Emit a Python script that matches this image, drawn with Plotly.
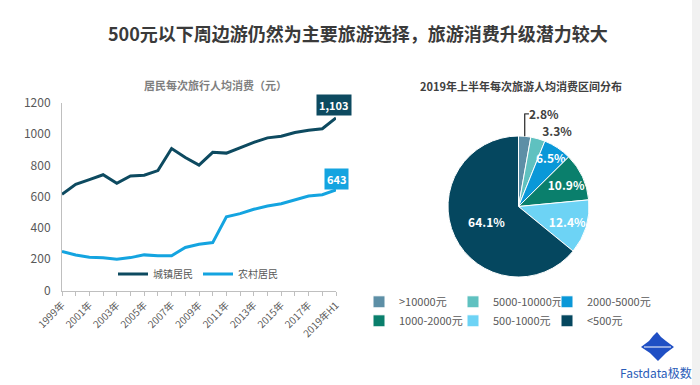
import plotly.graph_objects as go

# ---------------- data ----------------
years = [f"{y}年" for y in range(1999, 2019)] + ["2019年H1"]
urban = [614.8, 678.6, 708.3, 739.7, 684.9, 731.8, 737.1, 766.0, 906.9, 849.4,
         801.1, 883.0, 877.8, 914.5, 946.6, 975.4, 985.5, 1009.1, 1024.6, 1034.0, 1103.0]
rural = [249.5, 226.6, 212.7, 209.1, 200.0, 210.2, 227.6, 221.9, 222.5, 275.3,
         295.3, 306.0, 471.4, 491.0, 518.9, 540.2, 554.2, 576.4, 603.3, 611.9, 643.0]
series_names = ["城镇居民", "农村居民"]

pie_labels = [">10000元", "5000-10000元", "2000-5000元", "1000-2000元", "500-1000元", "<500元"]
pie_values = [2.8, 3.3, 6.5, 10.9, 12.4, 64.1]

title_main = "500元以下周边游仍然为主要旅游选择，旅游消费升级潜力较大"
title_line = "居民每次旅行人均消费（元）"
title_pie = "2019年上半年每次旅游人均消费区间分布"

# ---------------- styling ----------------
FONT = "Noto Sans CJK SC"
C_URBAN = "#0d4a60"
C_RURAL = "#14a4e0"
pie_colors = ["#5d8fa6", "#5fc1c0", "#0a98d8", "#0a7f6c", "#6dd3f5", "#05475f"]

W, H = 700, 385
ML, MR = 0, 58
GW = W - ML - MR


def px(x):
    return (x - ML) / GW


def py(y):
    return 1 - y / H


fig = go.Figure()

fig.add_trace(go.Scatter(x=years, y=urban, mode="lines", name=series_names[0],
                         line=dict(color=C_URBAN, width=3), legend="legend2"))
fig.add_trace(go.Scatter(x=years, y=rural, mode="lines", name=series_names[1],
                         line=dict(color=C_RURAL, width=3), legend="legend2"))

ticktext = [y if i % 2 == 0 else "" for i, y in enumerate(years)]

fig.add_trace(go.Pie(
    labels=pie_labels, values=pie_values, sort=False, direction="clockwise", rotation=0,
    marker=dict(colors=pie_colors, line=dict(color="white", width=1)),
    text=[f"{v}%" for v in pie_values], textinfo="text",
    textposition=["outside", "outside", "inside", "inside", "inside", "inside"],
    insidetextfont=dict(color="white", size=12, family=FONT, weight="bold"),
    outsidetextfont=dict(color="#404040", size=11, family=FONT, weight="bold"),
    insidetextorientation="horizontal",
    hole=0,
    domain=dict(x=[px(448), px(589)], y=[py(277), py(136)]),
    legend="legend",
))


def ann(text, x, y, size, color, bold=True):
    return dict(text=text, x=px(x), y=py(y), xref="paper", yref="paper", showarrow=False,
                xanchor="center", yanchor="middle",
                font=dict(size=size, family=FONT, color=color, weight="bold" if bold else "normal"))


annotations = [
    ann(title_main, 358, 33, 18, "#3a3a3a"),
    ann(title_line, 215, 85, 11, "#7f7f7f"),
    ann(title_pie, 521, 86, 11, "#404040"),
    ann("Fastdata极数", 656, 372, 12, "#2a5cb8", bold=False),
    dict(text=f"{urban[-1]:,.0f}", x=years[-1], y=urban[-1], xref="x", yref="y",
         xanchor="center", yanchor="middle",
         showarrow=False, yshift=13, xshift=-2, bgcolor=C_URBAN, borderpad=2,
         font=dict(size=11, family=FONT, color="white", weight="bold")),
    dict(text=f"{rural[-1]:,.0f}", x=years[-1], y=rural[-1], xref="x", yref="y",
         xanchor="center", yanchor="middle",
         showarrow=False, yshift=11, bgcolor=C_RURAL, borderpad=2,
         font=dict(size=11, family=FONT, color="white", weight="bold")),
]

# decorative logo (iceberg)
logo_pts = [(641, 347), (649, 341), (653, 336), (657, 332), (661, 337), (666, 341), (674, 347),
            (666, 353), (658, 361), (650, 353)]
logo_path = "M " + " L ".join(f"{px(x):.5f},{py(y):.5f}" for x, y in logo_pts) + " Z"

shapes = [
    dict(type="path", path=logo_path, xref="paper", yref="paper",
         fillcolor="#1f4fc4", line=dict(width=0)),
    dict(type="line", x0=px(644), x1=px(671), y0=py(347), y1=py(347), xref="paper", yref="paper",
         line=dict(color="white", width=1)),
    dict(type="rect", x0=px(692), x1=px(700), y0=0, y1=1, xref="paper", yref="paper",
         fillcolor="#f1f1f1", line=dict(width=0), layer="below"),
]

fig.update_layout(
    width=W, height=H,
    margin=dict(l=ML, r=MR, t=0, b=0, autoexpand=False),
    paper_bgcolor="white", plot_bgcolor="white",
    font=dict(family=FONT, color="#595959"),
    annotations=annotations,
    shapes=shapes,
    uniformtext=dict(minsize=12, mode="show"),
    xaxis=dict(domain=[px(62), px(336)], type="category", range=[0, len(years) - 1],
               tickmode="array", tickvals=years, ticktext=ticktext, tickangle=-45,
               ticks="outside", ticklen=4, tickcolor="#bfbfbf",
               showline=True, linecolor="#bfbfbf", linewidth=1, showgrid=False,
               tickfont=dict(size=10, color="#595959", family=FONT)),
    yaxis=dict(domain=[py(290.5), py(102.7)], range=[0, 1200], dtick=200,
               showline=True, linecolor="#bfbfbf", linewidth=1, showgrid=False, zeroline=False,
               ticks="", ticklabelstandoff=8,
               tickfont=dict(size=12, color="#595959", family=FONT)),
    legend=dict(orientation="h", x=px(669), xanchor="right", y=py(273), yanchor="top",
                entrywidth=49, entrywidthmode="pixels",
                title=dict(text="0" * 50, side="top",
                           font=dict(size=11, color="rgba(0,0,0,0)", family=FONT)),
                font=dict(size=11, color="#595959", family=FONT),
                bgcolor="rgba(0,0,0,0)", tracegroupgap=0),
    legend2=dict(orientation="h", x=px(113), xanchor="left", y=py(274), yanchor="middle",
                 font=dict(size=10, color="#595959", family=FONT),
                 bgcolor="rgba(0,0,0,0)"),
    showlegend=True,
)

fig.write_html("out.html", config={"displayModeBar": False},
               post_script="document.body.style.margin='0';")
